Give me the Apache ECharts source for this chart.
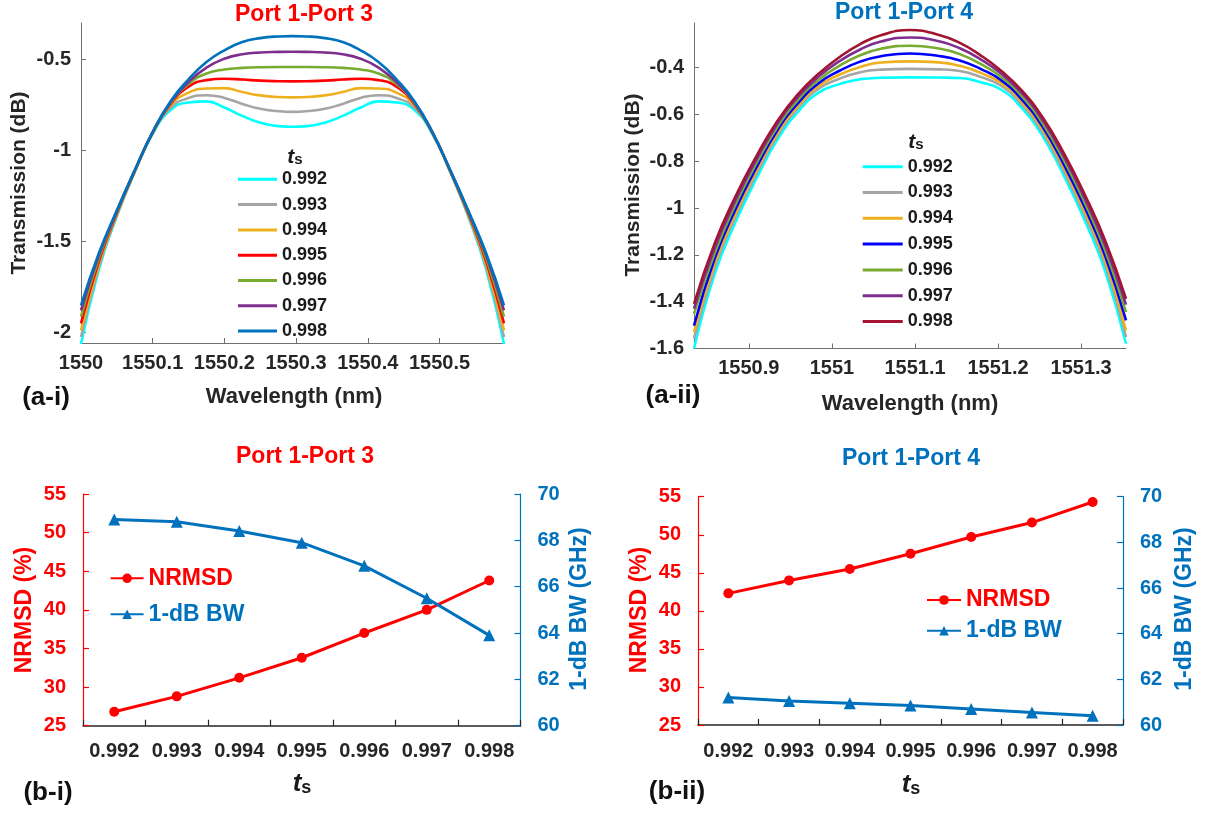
<!DOCTYPE html>
<html>
<head>
<meta charset="utf-8">
<script src="https://cdn.jsdelivr.net/npm/echarts@6/dist/echarts.min.js"></script>
<style>
html,body{margin:0;padding:0;background:#fff;}
#c{width:1207px;height:815px;}
</style>
</head>
<body>
<div id="c"></div>
<script>
// ---------- DATA ----------
const tsLabels = ['0.992','0.993','0.994','0.995','0.996','0.997','0.998'];

// (a-i) Port 1-Port 3 transmission
const wlA = [1550.000,1550.025,1550.050,1550.075,1550.100,1550.125,1550.150,1550.175,1550.200,1550.225,1550.250,1550.275,1550.295,
             1550.315,1550.340,1550.365,1550.390,1550.415,1550.440,1550.465,1550.490,1550.515,1550.540,1550.565,1550.590];
const a1_992 = [-2.065,-1.655,-1.363,-1.120,-0.910,-0.778,-0.737,-0.731,-0.765,-0.811,-0.848,-0.867,-0.871,-0.867,-0.848,-0.811,-0.765,-0.731,-0.737,-0.778,-0.910,-1.120,-1.363,-1.655,-2.065];
const a1_993 = [-2.027,-1.640,-1.357,-1.118,-0.906,-0.765,-0.713,-0.697,-0.712,-0.745,-0.772,-0.785,-0.789,-0.785,-0.772,-0.745,-0.712,-0.697,-0.713,-0.765,-0.906,-1.118,-1.357,-1.640,-2.027];
const a1_994 = [-1.990,-1.625,-1.350,-1.116,-0.904,-0.752,-0.683,-0.660,-0.658,-0.680,-0.698,-0.707,-0.709,-0.707,-0.698,-0.680,-0.658,-0.660,-0.683,-0.752,-0.904,-1.116,-1.350,-1.625,-1.990];
const a1_995 = [-1.952,-1.610,-1.345,-1.114,-0.902,-0.745,-0.650,-0.614,-0.607,-0.611,-0.617,-0.620,-0.621,-0.620,-0.617,-0.611,-0.607,-0.614,-0.650,-0.745,-0.902,-1.114,-1.345,-1.610,-1.952];
const a1_996 = [-1.915,-1.593,-1.340,-1.112,-0.900,-0.740,-0.635,-0.578,-0.556,-0.547,-0.543,-0.542,-0.542,-0.542,-0.543,-0.547,-0.556,-0.578,-0.635,-0.740,-0.900,-1.112,-1.340,-1.593,-1.915];
const a1_997 = [-1.880,-1.577,-1.335,-1.110,-0.900,-0.735,-0.625,-0.545,-0.497,-0.472,-0.462,-0.459,-0.458,-0.459,-0.462,-0.472,-0.497,-0.545,-0.625,-0.735,-0.900,-1.110,-1.335,-1.577,-1.880];
const a1_998 = [-1.853,-1.565,-1.330,-1.110,-0.900,-0.730,-0.610,-0.515,-0.450,-0.405,-0.383,-0.374,-0.372,-0.374,-0.383,-0.405,-0.450,-0.515,-0.610,-0.730,-0.900,-1.110,-1.330,-1.565,-1.853];

// (a-ii) Port 1-Port 4 transmission
const wlB = [1550.834,1550.859,1550.884,1550.909,1550.934,1550.959,1550.984,1551.009,1551.034,1551.059,1551.094,
             1551.129,1551.154,1551.179,1551.204,1551.229,1551.254,1551.279,1551.304,1551.329,1551.354];
const a2_992 = [-1.600,-1.280,-1.060,-0.875,-0.710,-0.590,-0.507,-0.471,-0.450,-0.444,-0.442,-0.443,-0.445,-0.463,-0.495,-0.575,-0.695,-0.860,-1.050,-1.270,-1.580];
const a2_993 = [-1.558,-1.254,-1.038,-0.856,-0.694,-0.575,-0.491,-0.448,-0.420,-0.409,-0.406,-0.408,-0.415,-0.440,-0.479,-0.560,-0.679,-0.841,-1.028,-1.244,-1.551];
const a2_994 = [-1.530,-1.235,-1.022,-0.842,-0.682,-0.564,-0.479,-0.431,-0.398,-0.379,-0.374,-0.378,-0.393,-0.423,-0.467,-0.549,-0.667,-0.827,-1.012,-1.225,-1.523];
const a2_995 = [-1.502,-1.215,-1.005,-0.828,-0.670,-0.553,-0.467,-0.414,-0.375,-0.352,-0.340,-0.351,-0.370,-0.406,-0.455,-0.538,-0.655,-0.813,-0.995,-1.205,-1.480];
const a2_996 = [-1.452,-1.192,-0.985,-0.810,-0.656,-0.539,-0.453,-0.393,-0.348,-0.320,-0.307,-0.319,-0.343,-0.385,-0.441,-0.524,-0.641,-0.795,-0.975,-1.182,-1.445];
const a2_997 = [-1.430,-1.170,-0.967,-0.794,-0.642,-0.526,-0.439,-0.373,-0.323,-0.289,-0.272,-0.288,-0.318,-0.365,-0.427,-0.511,-0.627,-0.779,-0.957,-1.160,-1.413];
const a2_998 = [-1.409,-1.150,-0.950,-0.780,-0.630,-0.515,-0.427,-0.356,-0.300,-0.262,-0.240,-0.261,-0.295,-0.348,-0.415,-0.500,-0.615,-0.765,-0.940,-1.140,-1.388];

// (b) NRMSD and 1-dB bandwidth vs ts
const tsCats = ['0.992','0.993','0.994','0.995','0.996','0.997','0.998'];
const nrmsdP3 = [26.8, 28.8, 31.2, 33.8, 37.0, 40.0, 43.8];
const bwP3    = [68.9, 68.8, 68.4, 67.9, 66.9, 65.5, 63.9];
const nrmsdP4 = [42.3, 44.0, 45.5, 47.5, 49.7, 51.6, 54.3];
const bwP4    = [61.2, 61.05, 60.95, 60.85, 60.7, 60.55, 60.4];

// tick labels
const tickA1x = [1550, 1550.1, 1550.2, 1550.3, 1550.4, 1550.5];
const tickA1y = [-2, -1.5, -1, -0.5];
const tickA2x = [1550.9, 1551, 1551.1, 1551.2, 1551.3];
const tickA2y = [-1.6, -1.4, -1.2, -1, -0.8, -0.6, -0.4];

// ---------- STYLE ----------
const F = "'Liberation Sans', Arial, Helvetica, sans-serif";
const colA1 = ['#00FFFF','#A5A5A5','#EDB120','#FF0000','#77AC30','#7E2F8E','#0072BD'];
const colA2 = ['#00FFFF','#A5A5A5','#EDB120','#0000FF','#77AC30','#7E2F8E','#A2142F'];
const RED = '#FF0000', BLUE = '#0072BD', TXT = '#262626';
const setsA1 = [a1_992,a1_993,a1_994,a1_995,a1_996,a1_997,a1_998];
const setsA2 = [a2_992,a2_993,a2_994,a2_995,a2_996,a2_997,a2_998];

const fmt = v => String(Math.round(v * 1000) / 1000);

function valAxis(gi, min, max, ticks, extra) {
  return Object.assign({
    type: 'value', gridIndex: gi, min: min, max: max, scale: true,
    splitLine: {show: false},
    axisLine: {show: true, onZero: false, lineStyle: {color: '#707070', width: 1}},
    axisTick: {show: true, inside: true, length: 5, customValues: ticks, lineStyle: {color: '#707070'}},
    axisLabel: {customValues: ticks, formatter: fmt, color: TXT, fontSize: 20, fontWeight: 'bold', fontFamily: F, margin: 10}
  }, extra || {});
}

const series = [];
setsA1.forEach((d, i) => {
  series.push({
    name: 'A_' + tsLabels[i], type: 'line', xAxisIndex: 0, yAxisIndex: 0,
    data: wlA.map((w, k) => [w, d[k]]), smooth: true, showSymbol: false, symbol: 'none',
    lineStyle: {width: 2.6, color: colA1[i]}, itemStyle: {color: colA1[i]}, silent: true
  });
});
setsA2.forEach((d, i) => {
  series.push({
    name: 'B_' + tsLabels[i], type: 'line', xAxisIndex: 1, yAxisIndex: 1,
    data: wlB.map((w, k) => [w, d[k]]), smooth: true, showSymbol: false, symbol: 'none',
    lineStyle: {width: 2.6, color: colA2[i]}, itemStyle: {color: colA2[i]}, silent: true
  });
});
series.push(
  {name: 'NRMSD', type: 'line', xAxisIndex: 2, yAxisIndex: 2, data: nrmsdP3, symbol: 'circle', symbolSize: 10,
   lineStyle: {width: 3, color: RED}, itemStyle: {color: RED}},
  {name: '1-dB BW', type: 'line', xAxisIndex: 2, yAxisIndex: 3, data: bwP3, symbol: 'triangle', symbolSize: 12,
   lineStyle: {width: 3, color: BLUE}, itemStyle: {color: BLUE}},
  {name: 'NRMSD', type: 'line', xAxisIndex: 3, yAxisIndex: 4, data: nrmsdP4, symbol: 'circle', symbolSize: 10,
   lineStyle: {width: 3, color: RED}, itemStyle: {color: RED}},
  {name: '1-dB BW', type: 'line', xAxisIndex: 3, yAxisIndex: 5, data: bwP4, symbol: 'triangle', symbolSize: 12,
   lineStyle: {width: 3, color: BLUE}, itemStyle: {color: BLUE}}
);

function catAxis(gi) {
  return {
    type: 'category', gridIndex: gi, data: tsCats, boundaryGap: true,
    axisLine: {show: true, onZero: false, lineStyle: {color: TXT, width: 1.5}},
    axisTick: {show: true, inside: true, length: 6, interval: 0, lineStyle: {color: TXT, width: 1.2}},
    axisLabel: {interval: 0, hideOverlap: false, color: TXT, fontSize: 20, fontWeight: 'bold', fontFamily: F, margin: 16},
    splitLine: {show: false}
  };
}
function sideAxis(gi, pos, min, max, interval, color) {
  return {
    type: 'value', gridIndex: gi, position: pos, min: min, max: max, interval: interval,
    splitLine: {show: false},
    axisLine: {show: true, onZero: false, lineStyle: {color: color, width: 1.2}},
    axisTick: {show: true, inside: true, length: 6, lineStyle: {color: color, width: 1.2}},
    axisLabel: {color: color, fontSize: 20, fontWeight: 'bold', fontFamily: F, margin: 17}
  };
}

const legendTxt = {fontSize: 18, fontWeight: 'bold', color: '#1a1a1a', fontFamily: F, lineHeight: 20};

function txt(x, y, s, size, color, rot, extra) {
  return Object.assign({
    type: 'text', x: x, y: y, rotation: rot || 0, silent: true,
    style: {text: s, fill: color, font: 'bold ' + size + 'px ' + F, align: 'center', verticalAlign: 'middle'}
  }, extra || {});
}
function tsText(x, y, tSize, sSize) {
  return {
    type: 'text', x: x, y: y, silent: true,
    style: {
      text: '{t|t}{s|s}', align: 'center', verticalAlign: 'middle', fill: '#1a1a1a',
      rich: {
        t: {fontFamily: F, fontStyle: 'italic', fontWeight: 'bold', fontSize: tSize, fill: '#1a1a1a', verticalAlign: 'bottom'},
        s: {fontFamily: F, fontWeight: 'bold', fontSize: sSize, fill: '#1a1a1a', verticalAlign: 'bottom'}
      }
    }
  };
}

const option = {
  animation: false,
  backgroundColor: '#ffffff',
  grid: [
    {left: 81, top: 23, width: 423, height: 320},
    {left: 694, top: 23, width: 432, height: 325.5},
    {left: 83, top: 494, width: 437.5, height: 231.7},
    {left: 698, top: 496.7, width: 425, height: 228.3}
  ],
  xAxis: [
    valAxis(0, 1550, 1550.59, tickA1x, {}),
    valAxis(1, 1550.834, 1551.354, tickA2x, {}),
    catAxis(2),
    catAxis(3)
  ],
  yAxis: [
    valAxis(0, -2.06, -0.3, tickA1y, {}),
    valAxis(1, -1.6, -0.21, tickA2y, {}),
    sideAxis(2, 'left', 25, 55, 5, RED),
    sideAxis(2, 'right', 60, 70, 2, BLUE),
    sideAxis(3, 'left', 25, 55, 5, RED),
    sideAxis(3, 'right', 60, 70, 2, BLUE)
  ],
  legend: [
    {data: tsLabels.map(t => 'A_' + t), orient: 'vertical', left: 238, top: 169.3, padding: 0,
     itemWidth: 39, itemHeight: 3, icon: 'rect', itemGap: 5.3, selectedMode: false,
     formatter: n => n.split('_')[1], textStyle: legendTxt},
    {data: tsLabels.map(t => 'B_' + t), orient: 'vertical', left: 862.7, top: 156.7, padding: 0,
     itemWidth: 40, itemHeight: 3, icon: 'rect', itemGap: 5.8, selectedMode: false,
     formatter: n => n.split('_')[1], textStyle: legendTxt},
    {data: [{name: 'NRMSD', textStyle: {color: RED}}, {name: '1-dB BW', textStyle: {color: BLUE}}],
     orient: 'vertical', left: 109.6, top: 566.3, padding: 0, itemWidth: 33, itemHeight: 12, itemGap: 12,
     selectedMode: false, textStyle: {fontSize: 23, fontWeight: 'bold', fontFamily: F, lineHeight: 24}},
    {data: [{name: 'NRMSD', textStyle: {color: RED}}, {name: '1-dB BW', textStyle: {color: BLUE}}],
     orient: 'vertical', left: 926, top: 588, padding: 0, itemWidth: 34, itemHeight: 12, itemGap: 6.7,
     selectedMode: false, textStyle: {fontSize: 23, fontWeight: 'bold', fontFamily: F, lineHeight: 24}}
  ],
  series: series,
  graphic: [
    txt(304, 15, 'Port 1-Port 3', 23, RED),
    txt(904, 13, 'Port 1-Port 4', 23, BLUE),
    txt(305, 457, 'Port 1-Port 3', 23, RED),
    txt(911, 459, 'Port 1-Port 4', 23, BLUE),
    txt(19, 183, 'Transmission (dB)', 21, TXT, Math.PI / 2),
    txt(294, 397, 'Wavelength (nm)', 22, TXT),
    txt(633, 185, 'Transmission (dB)', 21, TXT, Math.PI / 2),
    txt(910, 404, 'Wavelength (nm)', 22, TXT),
    txt(46, 398, '(a-i)', 26, '#111'),
    txt(673, 396, '(a-ii)', 26, '#111'),
    txt(48, 793, '(b-i)', 26, '#111'),
    txt(677, 792, '(b-ii)', 26, '#111'),
    txt(25, 610, 'NRMSD (%)', 23, RED, Math.PI / 2),
    txt(580, 609, '1-dB BW (GHz)', 23, BLUE, Math.PI / 2),
    txt(640, 610, 'NRMSD (%)', 23, RED, Math.PI / 2),
    txt(1185, 609, '1-dB BW (GHz)', 23, BLUE, Math.PI / 2),
    tsText(295, 157, 21, 15),
    tsText(916, 142, 21, 15),
    tsText(302, 784, 26, 18),
    tsText(911, 785, 26, 18)
  ]
};

const chart = echarts.init(document.getElementById('c'), null, {renderer: 'canvas'});
chart.setOption(option);
</script>
</body>
</html>
